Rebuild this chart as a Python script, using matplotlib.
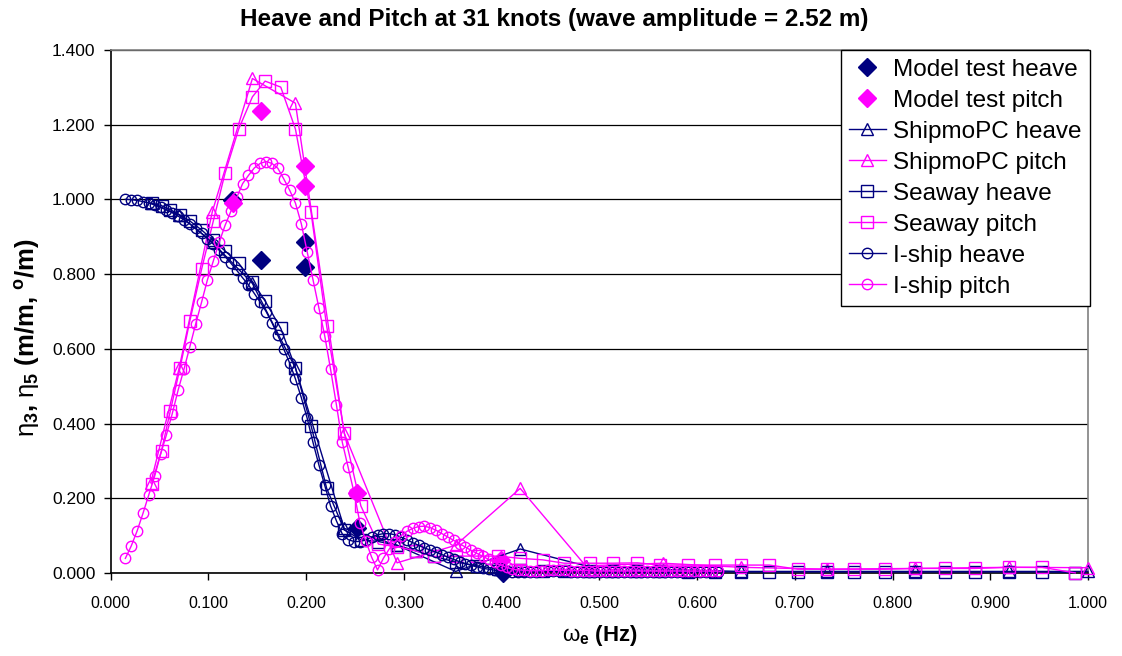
import matplotlib
matplotlib.use("Agg")
import matplotlib.pyplot as plt

plt.rcParams['font.family'] = ['Liberation Sans', 'DejaVu Sans']
plt.rcParams['mathtext.fontset'] = 'custom'
plt.rcParams['mathtext.rm'] = 'Liberation Sans'
plt.rcParams['mathtext.it'] = 'Liberation Sans'
plt.rcParams['mathtext.bf'] = 'Liberation Sans:bold'

NAVY = '#000080'
MAG = '#FF00FF'

# ---------------- data ----------------
mt_heave_x = [0.124, 0.154, 0.199, 0.199, 0.252, 0.401]
mt_heave_y = [0.998, 0.838, 0.887, 0.820, 0.120, 0.000]
mt_pitch_x = [0.125, 0.154, 0.199, 0.199, 0.252, 0.399]
mt_pitch_y = [0.989, 1.236, 1.089, 1.036, 0.214, 0.036]

shp_x = [0.041, 0.070, 0.104, 0.145, 0.189, 0.239, 0.293, 0.353, 0.419, 0.486,
         0.565, 0.645, 0.733, 0.823, 0.919, 1.000]
shp_heave = [0.990, 0.958, 0.885, 0.775, 0.549, 0.120, 0.075, 0.005, 0.065, 0.020,
             0.010, 0.005, 0.005, 0.005, 0.005, 0.005]
shp_pitch = [0.242, 0.548, 0.967, 1.323, 1.257, 0.374, 0.028, 0.075, 0.227, 0.020,
             0.027, 0.016, 0.011, 0.013, 0.016, 0.015]

sw_x = [0.042, 0.052, 0.061, 0.071, 0.081, 0.093, 0.105, 0.117, 0.131, 0.145,
        0.158, 0.174, 0.189, 0.205, 0.221, 0.239, 0.256, 0.274, 0.293, 0.312,
        0.331, 0.353, 0.375, 0.396, 0.419, 0.442, 0.464, 0.490, 0.514, 0.539,
        0.562, 0.591, 0.618, 0.645, 0.674, 0.703, 0.733, 0.761, 0.792, 0.823,
        0.854, 0.884, 0.919, 0.953, 0.987]
sw_heave = [0.990, 0.983, 0.972, 0.958, 0.942, 0.918, 0.890, 0.862, 0.829, 0.780,
            0.728, 0.655, 0.550, 0.395, 0.227, 0.116, 0.090, 0.085, 0.075, 0.060,
            0.045, 0.030, 0.020, 0.012, 0.008, 0.006, 0.005, 0.005, 0.005, 0.005,
            0.005, 0.004, 0.004, 0.004, 0.004, 0.004, 0.004, 0.004, 0.004, 0.004,
            0.004, 0.004, 0.004, 0.004, 0.002]
sw_pitch = [0.239, 0.328, 0.434, 0.550, 0.675, 0.813, 0.942, 1.070, 1.188, 1.274,
            1.316, 1.300, 1.188, 0.965, 0.661, 0.376, 0.180, 0.078, 0.071, 0.060,
            0.045, 0.046, 0.046, 0.046, 0.040, 0.036, 0.027, 0.027, 0.027, 0.028,
            0.022, 0.022, 0.022, 0.022, 0.022, 0.011, 0.011, 0.011, 0.011, 0.013,
            0.013, 0.013, 0.016, 0.016, 0.001]

ish_x = [0.015, 0.021, 0.027, 0.033, 0.039, 0.045, 0.051, 0.057, 0.063, 0.069,
         0.075, 0.081, 0.087, 0.093, 0.099, 0.105, 0.111, 0.117, 0.123, 0.129,
         0.135, 0.141, 0.147, 0.153, 0.159, 0.165, 0.171, 0.177, 0.183, 0.189,
         0.195, 0.201, 0.207, 0.213, 0.219, 0.225, 0.231, 0.237, 0.243, 0.249,
         0.255, 0.261, 0.267, 0.273, 0.279, 0.285, 0.291, 0.297, 0.303, 0.309,
         0.315, 0.321, 0.327, 0.333, 0.339, 0.345, 0.351, 0.357, 0.363, 0.369,
         0.375, 0.381, 0.387, 0.393, 0.399, 0.405, 0.411, 0.417, 0.423, 0.429,
         0.435, 0.441, 0.447, 0.453, 0.459, 0.465, 0.471, 0.477, 0.483, 0.489,
         0.495, 0.501, 0.507, 0.513, 0.519, 0.525, 0.531, 0.537, 0.543, 0.549,
         0.555, 0.561, 0.567, 0.573, 0.579, 0.585, 0.591, 0.597, 0.603, 0.609,
         0.615, 0.621]
ish_heave = [1.000, 0.999, 0.997, 0.994, 0.990, 0.985, 0.979, 0.972, 0.964, 0.955,
             0.945, 0.934, 0.922, 0.909, 0.895, 0.880, 0.864, 0.847, 0.829, 0.810,
             0.790, 0.771, 0.748, 0.725, 0.700, 0.670, 0.636, 0.600, 0.563, 0.520,
             0.470, 0.415, 0.350, 0.290, 0.235, 0.180, 0.140, 0.105, 0.090, 0.085,
             0.085, 0.089, 0.097, 0.103, 0.106, 0.106, 0.103, 0.097, 0.090, 0.082,
             0.075, 0.068, 0.062, 0.056, 0.050, 0.043, 0.037, 0.031, 0.026, 0.021,
             0.017, 0.013, 0.011, 0.008, 0.007, 0.005, 0.004, 0.004, 0.004, 0.004,
             0.004, 0.005, 0.005, 0.005, 0.005, 0.005, 0.004, 0.004, 0.004, 0.004,
             0.003, 0.003, 0.003, 0.003, 0.003, 0.003, 0.003, 0.003, 0.003, 0.003,
             0.003, 0.003, 0.003, 0.003, 0.003, 0.003, 0.003, 0.003, 0.003, 0.003,
             0.003, 0.003]
ish_pitch = [0.040, 0.073, 0.113, 0.160, 0.210, 0.260, 0.318, 0.370, 0.427, 0.490,
             0.546, 0.606, 0.667, 0.725, 0.785, 0.835, 0.885, 0.930, 0.968, 1.005,
             1.042, 1.064, 1.084, 1.096, 1.101, 1.096, 1.083, 1.055, 1.025, 0.990,
             0.935, 0.860, 0.785, 0.710, 0.635, 0.545, 0.450, 0.350, 0.283, 0.216,
             0.135, 0.087, 0.043, 0.009, 0.040, 0.065, 0.085, 0.100, 0.112, 0.120,
             0.125, 0.126, 0.122, 0.115, 0.106, 0.097, 0.088, 0.079, 0.070, 0.061,
             0.053, 0.045, 0.037, 0.029, 0.022, 0.016, 0.011, 0.009, 0.008, 0.007,
             0.007, 0.007, 0.008, 0.008, 0.008, 0.008, 0.007, 0.007, 0.007, 0.007,
             0.006, 0.006, 0.006, 0.006, 0.006, 0.006, 0.006, 0.006, 0.006, 0.006,
             0.006, 0.006, 0.006, 0.006, 0.006, 0.006, 0.006, 0.006, 0.006, 0.006,
             0.006, 0.006]

x_ticks = [0.0, 0.1, 0.2, 0.3, 0.4, 0.5, 0.6, 0.7, 0.8, 0.9, 1.0]
y_ticks = [0.0, 0.2, 0.4, 0.6, 0.8, 1.0, 1.2, 1.4]

# ---------------- figure ----------------
fig = plt.figure(figsize=(11.22, 6.56), dpi=100)
ax = fig.add_axes([110.7 / 1122, 1 - 573.3 / 656, (1088 - 110.7) / 1122, (573.3 - 49.7) / 656])

common = dict(clip_on=False, linewidth=1.0, markeredgewidth=1.0)
l1, = ax.plot(mt_heave_x, mt_heave_y, linestyle='none', marker='D', markersize=9,
              color=NAVY, clip_on=False, zorder=3, label='Model test heave')
l2, = ax.plot(mt_pitch_x, mt_pitch_y, linestyle='none', marker='D', markersize=9,
              color=MAG, clip_on=False, zorder=3, label='Model test pitch')
l3, = ax.plot(shp_x, shp_heave, marker='^', markersize=8, color=NAVY, mfc='none',
              zorder=4, label='ShipmoPC heave', **common)
l4, = ax.plot(shp_x, shp_pitch, marker='^', markersize=8, color=MAG, mfc='none',
              zorder=4, label='ShipmoPC pitch', **common)
l5, = ax.plot(sw_x, sw_heave, marker='s', markersize=8, color=NAVY, mfc='none',
              zorder=5, label='Seaway heave', **common)
l6, = ax.plot(sw_x, sw_pitch, marker='s', markersize=8, color=MAG, mfc='none',
              zorder=5, label='Seaway pitch', **common)
l7, = ax.plot(ish_x, ish_heave, marker='o', markersize=7.5, color=NAVY, mfc='none',
              zorder=6, label='I-ship heave', **common)
l8, = ax.plot(ish_x, ish_pitch, marker='o', markersize=7.5, color=MAG, mfc='none',
              zorder=6, label='I-ship pitch', **common)

ax.set_xlim(0, 1.0)
ax.set_ylim(0, 1.4)
ax.set_xticks(x_ticks)
ax.set_yticks(y_ticks)
ax.set_xticklabels(['%.3f' % v for v in x_ticks])
ax.set_yticklabels(['%.3f' % v for v in y_ticks])
ax.tick_params(direction='out', length=5, width=1, colors='black')
ax.tick_params(axis='x', labelsize=11.5, pad=11)
ax.tick_params(axis='y', labelsize=12.5, pad=6)
ax.yaxis.grid(True, color='black', linewidth=0.9)
ax.set_axisbelow(True)
for s in ['top', 'right']:
    ax.spines[s].set_color('#808080')
    ax.spines[s].set_linewidth(1.2)
for s in ['left', 'bottom']:
    ax.spines[s].set_color('black')
    ax.spines[s].set_linewidth(1.2)

fig.suptitle('Heave and Pitch at 31 knots (wave amplitude = 2.52 m)',
             x=554.5 / 1122, y=1 - 8 / 656, va='top',
             fontsize=17.5, fontweight='bold')
ax.set_xlabel(r'$\omega_\mathbf{e}$ (Hz)', fontsize=16, fontweight='bold', labelpad=9)
ax.set_ylabel(r'$\eta_\mathbf{3}$, $\eta_\mathbf{5}$ (m/m, $^\mathbf{o}$/m)', fontsize=18.5,
              fontweight='bold')
ax.yaxis.set_label_coords((42 - 110.7) / 977.3, 0.45)

leg = fig.legend(handles=[l1, l2, l3, l4, l5, l6, l7, l8], loc='upper right',
                 bbox_to_anchor=(1090 / 1122, 1 - 50 / 656), borderaxespad=0,
                 fontsize=17.5, labelspacing=0.37, handlelength=1.5, handletextpad=0.3,
                 borderpad=0.35, fancybox=False, framealpha=1, edgecolor='black')
leg.get_frame().set_linewidth(1.0)
leg.set_zorder(10)

fig.savefig('out.png', dpi=100)
